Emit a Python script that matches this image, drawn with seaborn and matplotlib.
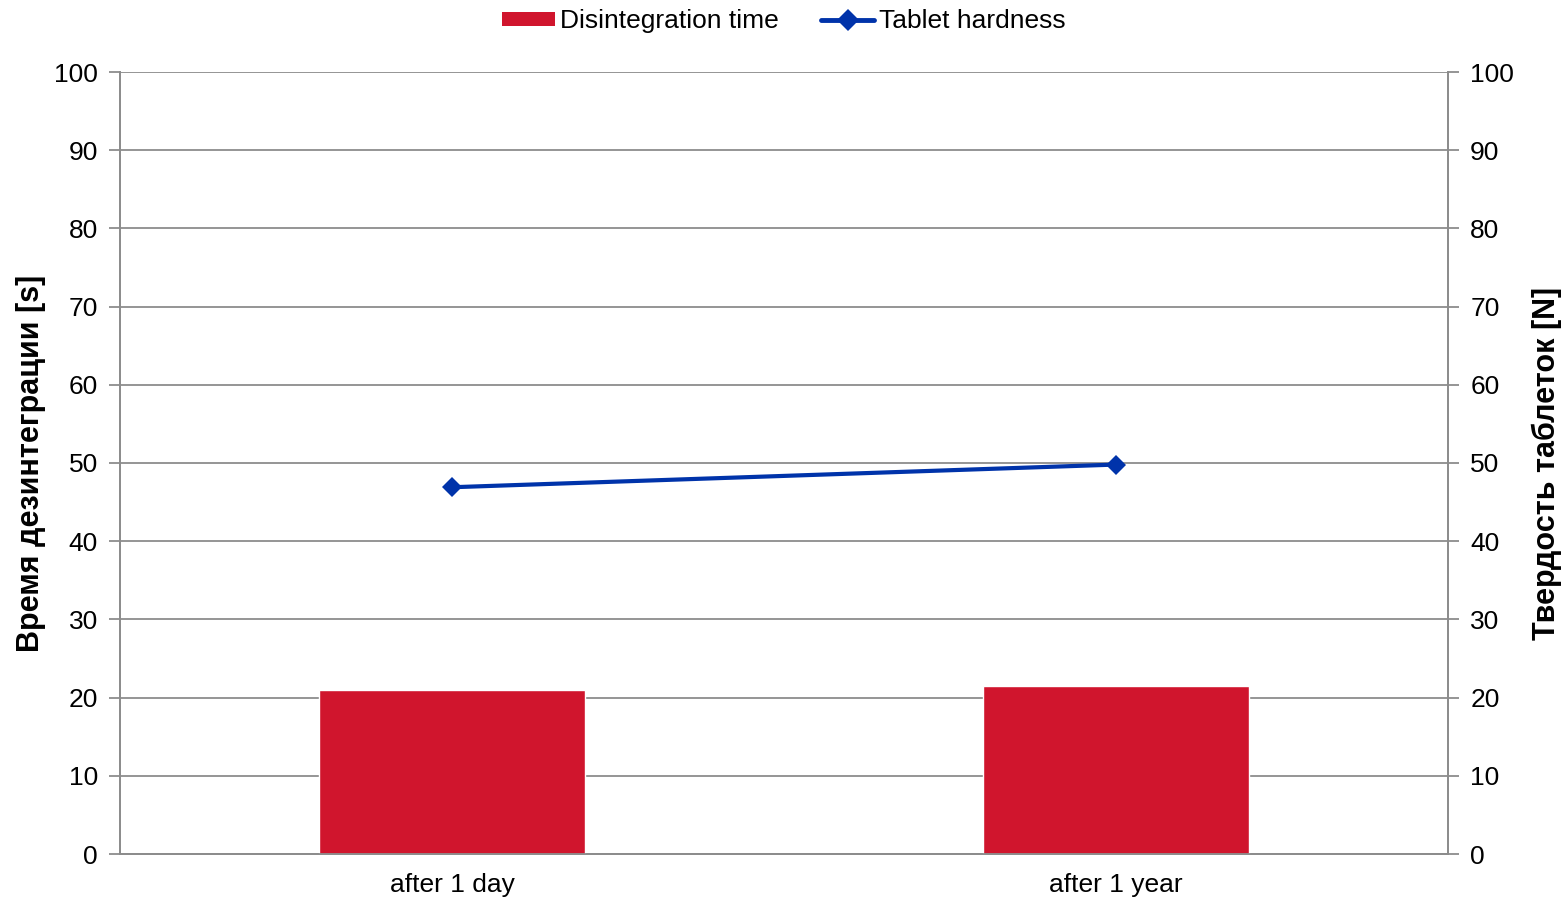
import matplotlib
matplotlib.use("Agg")
import matplotlib.pyplot as plt
from matplotlib.lines import Line2D
from matplotlib.patches import Patch
import seaborn as sns
import pandas as pd

categories = ["after 1 day", "after 1 year"]
disintegration_time = [21.0, 21.5]
tablet_hardness = [46.9, 49.8]
y_ticks = list(range(0, 101, 10))

sns.set_theme(style="white")
plt.rcParams["font.family"] = ["Liberation Sans", "DejaVu Sans"]
plt.rcParams["text.color"] = "black"
plt.rcParams["axes.labelcolor"] = "black"

bar_color = "#D0152D"
line_color = "#0033AA"
grid_color = "#8C8C8C"

fig = plt.figure(figsize=(15.68, 9), dpi=100)
ax = fig.add_axes([120 / 1568, 1 - 854 / 900, (1448 - 120) / 1568, (854 - 72) / 900])

df = pd.DataFrame({"stage": categories, "time": disintegration_time, "hardness": tablet_hardness})
sns.barplot(data=df, x="stage", y="time", ax=ax, color=bar_color, width=0.4,
            saturation=1, zorder=3)
ax.set_xlim(-0.5, 1.5)
ax.set_ylim(0, 100)
ax.set_yticks(y_ticks)
ax.yaxis.grid(True, color=grid_color, linewidth=1.3, zorder=0)
ax.set_axisbelow(True)

ax2 = ax.twinx()
sns.lineplot(data=df, x="stage", y="hardness", ax=ax2, color=line_color, linewidth=3,
             marker="D", markersize=10, markeredgewidth=0, zorder=4)
ax2.set_xlim(-0.5, 1.5)
ax2.set_ylim(0, 100)
ax2.set_yticks(y_ticks)

# category boundary ticks on x, labels centred on categories
ax.set_xticks([-0.5, 0.5, 1.5])
ax.set_xticklabels([])
ax.set_xticks([0, 1], minor=True)
ax.set_xticklabels(categories, minor=True)
ax.tick_params(axis="x", which="major", length=8, width=1.3, color=grid_color, direction="out")
ax.tick_params(axis="x", which="minor", length=0, labelsize=19, pad=14, labelcolor="black")

ax.tick_params(axis="y", length=8, width=1.3, color=grid_color, direction="out", left=True,
               labelsize=19, pad=8, labelcolor="black")
ax2.tick_params(axis="y", length=8, width=1.3, color=grid_color, direction="out", right=True,
                labelsize=19, pad=8, labelcolor="black")

ax.set_xlabel("")
ax.set_ylabel("Время дезинтеграции [s]", fontsize=22, fontweight="bold", labelpad=6,
              color="black")
ax2.set_ylabel("Твердость таблеток [N]", fontsize=22, fontweight="bold", labelpad=13,
               color="black")

for a in (ax, ax2):
    for side in ("left", "right", "bottom"):
        a.spines[side].set_color(grid_color)
        a.spines[side].set_linewidth(1.3)
    a.spines["top"].set_visible(False)

handles = [
    Patch(facecolor=bar_color, edgecolor="none"),
    Line2D([0], [0], color=line_color, linewidth=3.5, marker="D", markersize=11,
           markeredgewidth=0),
]
leg = fig.legend(handles, ["Disintegration time", "Tablet hardness"], loc="center",
                 bbox_to_anchor=(0.5, 1 - 21 / 900), ncol=2, frameon=False, fontsize=19,
                 handlelength=2.0, handleheight=0.45, handletextpad=0.2, columnspacing=1.6)
for t in leg.get_texts():
    t.set_color("black")

fig.savefig("out.png", dpi=100)
